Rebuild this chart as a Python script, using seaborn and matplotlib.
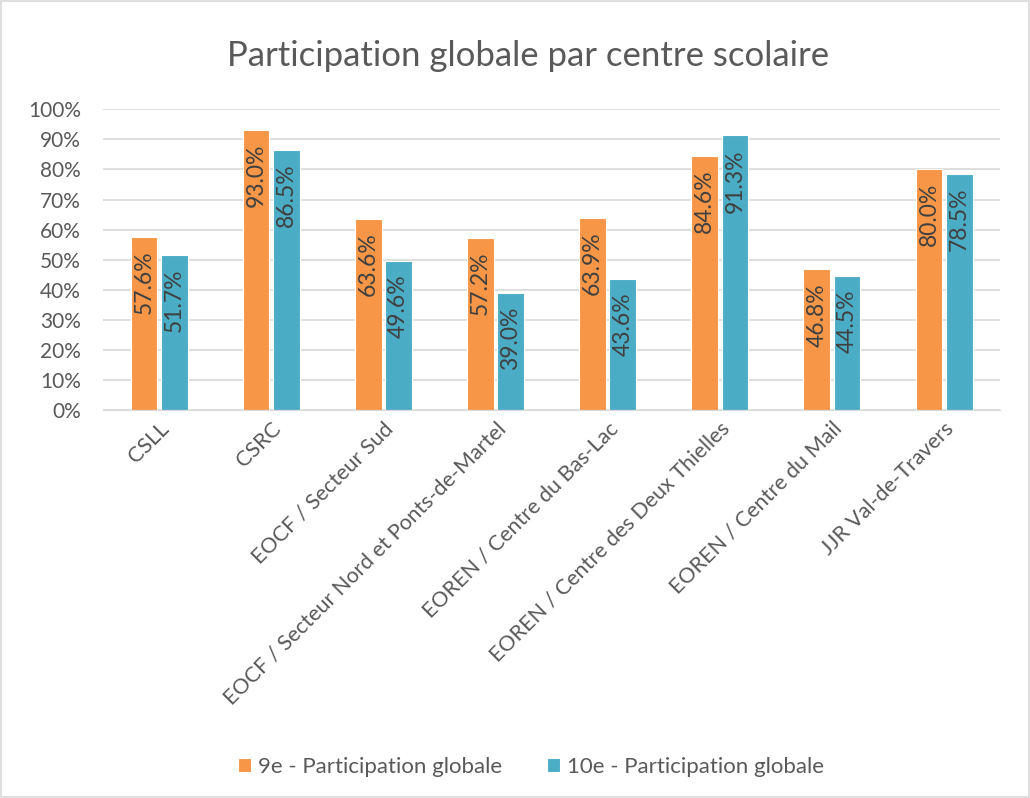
import pandas as pd
import matplotlib.pyplot as plt
import seaborn as sns
from matplotlib.ticker import PercentFormatter
from matplotlib.patches import Rectangle

centres = ['CSLL', 'CSRC', 'EOCF / Secteur Sud', 'EOCF / Secteur Nord et Ponts-de-Martel',
           'EOREN / Centre du Bas-Lac', 'EOREN / Centre des Deux Thielles',
           'EOREN / Centre du Mail', 'JJR Val-de-Travers']
part_9e = [57.6, 93.0, 63.6, 57.2, 63.9, 84.6, 46.8, 80.0]
part_10e = [51.7, 86.5, 49.6, 39.0, 43.6, 91.3, 44.5, 78.5]
series = ['9e - Participation globale', '10e - Participation globale']
colors = ['#F79646', '#4BACC6']

df = pd.DataFrame({
    'Centre': centres * 2,
    'Serie': [series[0]] * len(centres) + [series[1]] * len(centres),
    'Valeur': part_9e + part_10e,
})

sns.set_style('white')
plt.rcParams['font.family'] = ['Lato', 'DejaVu Sans']
txt = '#595959'

fig = plt.figure(figsize=(10.3, 7.98), dpi=100)
ax = fig.add_axes([0.1, 0.486, 0.871, 0.377])

sns.barplot(data=df, x='Centre', y='Valeur', hue='Serie', palette=colors, saturation=1,
            width=0.54, gap=0.12, edgecolor='white', linewidth=0.8, ax=ax)

ax.set_ylim(0, 100)
ax.set_yticks(range(0, 101, 10))
ax.yaxis.set_major_formatter(PercentFormatter(decimals=0))
ax.grid(axis='y', color='#D9D9D9', linewidth=1.2)
ax.set_axisbelow(True)
for s in ['top', 'right', 'left']:
    ax.spines[s].set_visible(False)
ax.spines['bottom'].set_color('#D9D9D9')
ax.tick_params(axis='y', labelsize=15, colors=txt, length=0, pad=16)
ax.tick_params(axis='x', labelsize=15.5, colors=txt, length=0, pad=6)
plt.setp(ax.get_xticklabels(), rotation=45, ha='right', rotation_mode='anchor')
ax.set_xlabel('')
ax.set_ylabel('')

for cont in ax.containers:
    for bar in cont:
        h = bar.get_height()
        ax.text(bar.get_x() + bar.get_width() / 2, h - 4.5, f'{h:.1f}%',
                rotation=90, ha='center', va='top', fontsize=16.5, color='#404040')

leg = ax.legend(loc='center', bbox_to_anchor=(0.477, -1.186), ncol=2, frameon=False,
                fontsize=16, handlelength=0.6, handleheight=0.6, columnspacing=2.0,
                handletextpad=0.3)
for t in leg.get_texts():
    t.set_color(txt)

fig.suptitle('Participation globale par centre scolaire', x=0.513, y=0.95, fontsize=25, color=txt)
fig.patches.append(Rectangle((0.001, 0.001), 0.998, 0.998, transform=fig.transFigure,
                             fill=False, edgecolor='#D9D9D9', linewidth=1.2))

fig.savefig('out.png', dpi=100)
